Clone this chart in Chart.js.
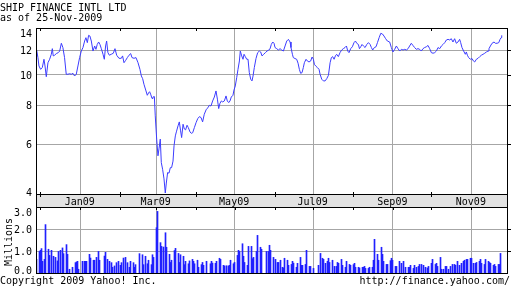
<!DOCTYPE html>
<html>
<head>
<meta charset="utf-8">
<script src="https://cdn.jsdelivr.net/npm/chart.js@4.4.0/dist/chart.umd.min.js"></script>
<style>
  html, body { margin: 0; padding: 0; background: #fff; }
  #wrap { position: relative; width: 512px; height: 288px; overflow: hidden;
          font-family: "DejaVu Sans Mono", monospace; font-size: 10px; line-height: 12px; color: #000; }
  canvas { position: absolute; left: 0; top: 0; }
  .txt { position: absolute; white-space: nowrap; }
</style>
</head>
<body>
<div id="wrap">
  <canvas id="price" width="512" height="288"></canvas>
  <canvas id="volume" width="512" height="288"></canvas>
  <div class="txt" style="left:0;top:2px">SHIP FINANCE INTL LTD</div>
  <div class="txt" style="left:0;top:12px">as of 25-Nov-2009</div>
  <div class="txt" style="left:-15.5px;top:235.8px;width:48.2px;transform:rotate(-90deg)">Millions</div>
  <div class="txt" style="left:0;top:275px">Copyright 2009 Yahoo! Inc.</div>
  <div class="txt" style="right:2px;top:275px">http://finance.yahoo.com/</div>
</div>
<script>
// x values are days since 1 Jan 2009

const xMin = -34.4;
const xMax = 331.7;

const majorMonths = [0, 59, 120, 181, 243, 304];
const majorLabels = ['Jan09', 'Mar09', 'May09', 'Jul09', 'Sep09', 'Nov09'];
const minorMonths = [-31, 31, 90, 151, 212, 273];

const priceTicks = [4, 6, 8, 10, 12, 14];
const priceGrid = [6, 8, 10, 12];
const volumeTicks = [0, 1, 2, 3];
const volumeGrid = [1, 2];

const priceDays = [
  -33.9, -32.9, -32.1, -30.8, -29.5, -28.2, -27.4, -26.4, -25.1, -23.8, -22.5, -21.7, -21.0, -19.9, -18.6, -17.1,
  -16.0, -14.7, -13.5, -12.2, -10.9, -9.6, -8.3, -7.0, -5.7, -4.4, -3.1, -1.8, -0.5, 0.8, 2.1, 3.4,
  4.4, 5.5, 6.5, 7.5, 8.6, 9.9, 11.2, 12.2, 13.2, 14.3, 15.3, 16.4, 17.7, 18.7, 19.7, 20.5,
  21.5, 22.6, 24.1, 25.7, 27.0, 28.3, 30.1, 31.9, 32.9, 34.0, 35.3, 36.6, 37.9, 39.2, 40.2, 41.8,
  43.3, 44.9, 46.4, 47.5, 48.5, 49.5, 51.1, 52.1, 53.2, 53.9, 54.7, 55.8,
  56.5, 57.6, 58.3, 59.4, 60.4, 61.2, 62.2, 63.0, 64.0, 65.1, 66.1, 66.9, 67.9, 69.0, 70.0, 71.0,
  72.1, 72.9, 73.9, 74.7, 76.0, 77.0, 78.0, 78.8, 79.9, 80.9, 81.9, 83.0, 84.0, 85.3, 86.3, 87.4,
  88.7, 90.0, 91.3, 92.6, 93.9, 95.1, 96.4, 98.0, 99.3, 100.3, 101.6, 102.9, 104.2, 105.5, 106.6, 107.6,
  108.6, 109.7, 110.7, 112.0, 113.3, 114.3, 115.4, 116.4, 117.4, 118.7, 119.5, 120.5, 121.6, 122.6, 123.7, 124.4,
  125.5, 126.5, 127.3, 128.3, 129.4, 130.4, 131.4, 132.5, 133.5, 134.3, 135.3, 136.6, 137.9, 139.2, 140.2, 141.3,
  142.6, 143.9, 145.2, 146.5, 147.5,
  148.5, 149.6, 150.6, 151.4, 152.7, 154.0, 155.3, 156.6, 157.9, 159.2, 160.5, 161.8, 163.1, 163.8, 164.9, 165.6,
  166.9, 168.2, 169.3, 170.3, 171.3, 172.4, 173.4, 174.2, 175.5, 176.5, 177.8, 179.1, 180.2, 181.2, 182.0, 183.0,
  184.3, 185.6, 186.4, 187.7, 189.0, 190.3, 191.6, 192.9, 194.2, 195.2, 196.2, 197.3, 198.3, 199.3, 200.6, 201.9,
  203.2, 204.5, 205.8, 206.9, 207.9, 208.9, 210.2, 211.5, 212.8, 213.9, 214.9, 216.2, 217.0, 218.0, 219.0, 220.1,
  221.4, 222.7, 224.0, 225.3, 226.3, 227.3, 228.6, 229.9, 231.0, 232.3, 233.6, 234.9, 236.1, 237.4, 238.7,
  240.5, 241.8, 243.1, 244.4, 245.7, 247.0, 248.3, 249.6, 250.9, 252.2, 253.5, 254.8, 256.0, 257.3, 258.6, 259.9,
  261.2, 262.5, 263.8, 265.1, 266.4, 267.7, 269.0, 270.3, 271.6, 272.9, 274.2, 275.5, 276.8, 278.1, 279.4, 280.7,
  282.0, 283.3, 284.6, 285.9, 287.2, 288.4, 289.7, 291.0, 292.3, 293.6, 294.9, 295.7, 296.7, 298.0, 299.3, 300.1,
  300.9, 301.9, 303.2, 304.5, 305.6, 306.6, 307.9, 309.2, 310.5, 311.8, 313.1, 314.4, 315.7, 317.0, 317.7, 318.8,
  320.1, 321.6, 322.7, 324.0, 325.3, 326.3, 327.1, 327.6
];

const prices = [
  12.00, 11.35, 10.67, 10.41, 10.55, 11.21, 10.67, 9.86, 10.93, 11.21, 11.63, 12.12, 11.49, 11.55, 11.69, 11.77,
  11.91, 12.61, 12.22, 11.35, 10.04, 10.04, 10.08, 10.04, 10.11, 9.91, 10.04, 10.67, 11.35, 11.91, 12.22, 12.82,
  13.14, 12.67, 13.37, 13.30, 12.82, 11.91, 12.36, 12.06, 12.50, 12.73, 12.50, 12.12, 11.63, 11.21, 12.36, 12.82,
  11.77, 11.55, 11.63, 11.72, 12.12, 11.55, 11.29, 11.29, 11.49, 10.93, 11.12, 11.35, 11.55, 11.69, 11.35, 11.29,
  11.35, 10.93, 10.41, 9.91, 9.72, 9.33, 8.88, 8.60, 8.77, 8.83, 8.67, 8.40,
  8.49, 8.52, 7.39, 6.23, 5.51, 5.80, 6.23, 5.24, 4.99, 4.65, 4.19, 4.51, 4.87, 4.85, 5.05, 5.05,
  5.30, 5.93, 6.38, 6.57, 6.87, 7.07, 6.62, 6.30, 6.95, 6.71, 6.67, 6.90, 6.78, 6.57, 6.50, 6.53,
  6.78, 7.03, 7.24, 7.35, 7.30, 7.07, 7.48, 7.76, 7.85, 7.99, 7.95, 8.25, 8.49, 8.88, 8.36, 7.80,
  8.11, 8.25, 8.19, 8.25, 8.56, 8.25, 8.15, 8.25, 8.49, 8.60, 8.94, 9.21, 9.79, 10.41, 11.07, 11.91,
  11.49, 11.21, 11.63, 11.43, 11.21, 11.21, 10.16, 9.68, 9.56, 9.91, 10.55, 11.27, 11.77, 11.91, 11.83, 11.49,
  11.63, 11.77, 11.91, 12.00, 12.10,
  12.50, 12.73, 12.61, 12.22, 12.12, 12.00, 12.12, 12.00, 11.91, 12.36, 12.82, 12.98, 12.73, 12.22, 11.63, 11.35,
  11.27, 11.21, 10.89, 10.41, 10.11, 10.16, 10.55, 10.93, 11.21, 11.07, 10.99, 11.07, 11.40, 11.21, 10.80, 10.67,
  10.55, 10.41, 10.04, 9.68, 9.56, 9.56, 9.72, 9.96, 10.93, 11.35, 11.43, 11.21, 11.49, 11.63, 11.43, 11.77,
  12.00, 12.12, 12.22, 12.36, 11.91, 11.77, 12.12, 12.29, 12.67, 12.82, 12.61, 12.50, 12.12, 12.29, 12.50, 12.36,
  12.22, 12.50, 12.67, 12.50, 12.22, 12.00, 12.22, 12.29, 12.67, 13.14, 13.57, 13.50, 13.30, 13.04, 12.82,
  12.73, 12.22, 11.83, 12.06, 12.36, 12.12, 11.91, 12.06, 12.00, 12.06, 12.00, 12.12, 12.36, 12.61, 12.41, 12.22,
  12.06, 12.12, 12.06, 11.91, 12.12, 12.22, 12.29, 12.41, 12.12, 11.77, 11.72, 11.77, 11.91, 12.22, 12.12, 12.36,
  12.50, 12.67, 12.92, 12.98, 12.92, 13.04, 12.73, 13.04, 12.61, 12.73, 12.98, 12.67, 12.22, 11.91, 11.63, 11.83,
  11.55, 11.35, 11.21, 11.27, 11.07, 10.99, 11.21, 11.29, 11.43, 11.55, 11.63, 11.72, 11.83, 11.91, 12.12, 12.36,
  12.61, 12.73, 12.61, 12.61, 12.67, 12.98, 13.14, 13.37
];

const volumeDays = [
  -34, -32, -31, -30, -29, -28, -27, -25, -24, -22, -21, -19, -18, -17, -15, -14, -13, -11, -10, -8, -6, -4, -3, -2, -1,
  2, 3, 4, 5, 7, 8, 10, 11, 13, 14, 15, 19, 20, 21, 23, 24, 25, 27, 28, 30, 31, 32, 34, 35, 37, 38, 39, 41, 42, 43,
  46, 48, 49, 51, 52, 53, 55, 56, 57, 59, 60, 62, 63, 65, 66, 67, 69, 70, 71, 73, 74, 76, 77, 78, 80, 81, 82, 84, 85,
  87, 88, 89, 91, 92, 94, 95, 96, 98, 101, 102, 103, 105, 106, 108, 109, 111, 112, 114, 115, 116, 117, 119, 120, 122,
  123, 124, 126, 127, 128, 130, 131, 133, 134, 135, 137, 138, 140, 141, 145, 146, 147, 148,
  150, 152, 153, 154, 156, 157, 158, 159, 161, 162, 164, 165, 166, 168, 169, 171, 172, 173, 175, 176, 178, 179, 181,
  185, 187, 188, 189, 191, 192, 193, 194, 196, 198, 199, 200, 201, 203, 204, 206, 207, 209, 210, 212, 213, 214, 216,
  217, 219, 220, 221, 222, 224, 225, 227, 228, 229, 231, 232, 234, 235, 236, 238, 239, 241, 242, 243, 245, 246, 248,
  250, 251, 253, 255, 256, 257, 259, 260, 261, 263, 264, 265, 267, 268, 270, 271, 273, 274, 276, 277, 278, 280, 281,
  282, 284, 285, 286, 288, 289, 291, 292, 293, 295, 296, 298, 299, 300, 301, 303, 304, 306, 307, 308, 310, 311, 312,
  314, 315, 317, 318, 319, 321, 322, 323, 325, 326, 327
];

// millions of shares
const volumes = [
  0.62, 0.98, 1.03, 1.11, 0.53, 0.62, 2.20, 1.08, 0.80, 1.03, 0.76, 0.71, 0.55, 0.98, 1.03, 1.14, 0.88, 1.29, 0.85, 0.17, 0.26, 0.47, 0.50, 0.53, 0.17,
  0.53, 0.53, 0.53, 0.53, 0.85, 0.68, 0.58, 0.58, 0.71, 0.98, 0.58, 0.77, 0.94, 0.62, 0.53, 0.47, 0.26, 0.32, 0.47, 0.53, 0.35, 0.47, 0.68, 0.71, 0.47, 0.26, 0.53, 0.47, 0.26, 0.38,
  0.88, 0.83, 0.38, 0.76, 0.42, 0.58, 0.38, 0.83, 0.71, 2.06, 2.80, 1.38, 1.21, 1.18, 1.83, 1.17, 0.85, 0.48, 0.58, 1.02, 1.12, 0.89, 0.48, 0.83, 0.76, 0.38, 0.53, 0.42, 0.55,
  0.62, 0.53, 0.42, 0.58, 0.26, 0.38, 0.48, 0.35, 0.53, 0.42, 0.53, 0.45, 0.44, 0.53, 0.67, 0.62, 0.35, 0.32, 0.33, 0.32, 0.35, 0.58, 0.42, 0.48, 0.80,
  1.03, 0.98, 1.33, 0.76, 0.48, 0.35, 1.21, 1.21, 0.65, 0.71, 0.98, 1.71, 1.17, 1.08, 0.98, 0.98, 1.26, 1.03,
  0.71, 0.62, 0.48, 0.48, 0.58, 0.26, 0.23, 0.67, 0.58, 0.35, 0.39, 0.53, 0.45, 0.26, 0.44, 0.71, 0.35, 0.35, 0.39, 1.03, 0.30, 0.30, 0.21,
  0.35, 0.89, 0.67, 0.62, 0.44, 0.53, 0.67, 0.48, 0.58, 0.30, 0.30, 0.48, 0.44, 0.62, 0.35, 0.26, 0.53, 0.39, 0.35, 0.38, 0.44, 0.26, 0.26,
  0.23, 0.26, 0.26, 0.30, 0.21, 0.21, 0.26, 0.26, 0.58, 1.53, 0.85, 0.58, 1.17, 0.85, 0.53, 0.39, 0.39, 0.56, 0.67, 0.58, 0.30, 0.30, 0.53,
  0.44, 0.53, 0.26, 0.26, 0.26, 0.35, 0.21, 0.35, 0.26, 0.30, 0.39, 0.39, 0.35, 0.26, 0.23, 0.30, 0.44, 0.62, 0.39, 0.44, 0.30, 0.71, 0.17,
  0.17, 0.30, 0.30, 0.17, 0.30, 0.39, 0.39, 0.35, 0.53, 0.35, 0.44, 0.53, 0.58, 0.62, 0.62, 0.67, 0.67, 0.44, 0.44, 0.48, 0.53, 0.62, 0.44,
  0.39, 0.62, 0.53, 0.48, 0.44, 0.35, 0.39, 0.30, 0.39, 0.39, 0.89
];

const FONT = '10px "DejaVu Sans Mono"';
const GRID = '#a6a6a6';
const BAND = '#e2e2e2';

function tickValues(list) {
  return s => { s.ticks = list.map(v => ({ value: v })); };
}

function vTick(ctx, x, y0, y1) {
  const px = Math.round(x) + 0.5;
  ctx.beginPath(); ctx.moveTo(px, y0); ctx.lineTo(px, y1); ctx.stroke();
}

function hTick(ctx, y, x0, x1) {
  const py = Math.round(y) + 0.5;
  ctx.beginPath(); ctx.moveTo(x0, py); ctx.lineTo(x1, py); ctx.stroke();
}

function yLabels(chart, ticks, fmt, topPad, bottomPad) {
  const { ctx, chartArea: a, scales: { y } } = chart;
  ctx.font = FONT;
  ctx.fillStyle = '#000';
  ctx.textAlign = 'right';
  ctx.textBaseline = 'alphabetic';
  ticks.forEach(v => {
    let cy = y.getPixelForValue(v) + 0.5;
    cy = Math.min(Math.max(cy, a.top + topPad), a.bottom - bottomPad);
    ctx.fillText(fmt(v), 32, cy + 3.6);
  });
}

const priceDeco = {
  id: 'priceDeco',
  afterDraw(chart) {
    const { ctx, chartArea: a, scales: { x, y } } = chart;
    ctx.save();
    ctx.strokeStyle = '#000';
    ctx.lineWidth = 1;
    // date band under the price panel
    ctx.fillStyle = BAND;
    ctx.fillRect(a.left, a.bottom, a.right - a.left, 13);
    ctx.strokeRect(a.left + 0.5, a.bottom + 0.5, a.right - a.left, 13);
    ctx.strokeRect(a.left + 0.5, a.top + 0.5, a.right - a.left, a.bottom - a.top);
    minorMonths.forEach(d => {
      const px = x.getPixelForValue(d);
      if (px < a.left || px > a.right) return;
      vTick(ctx, px, a.top, a.top + 3);
      vTick(ctx, px, a.bottom - 2, a.bottom + 3);
    });
    priceGrid.forEach(v => hTick(ctx, y.getPixelForValue(v), a.right, a.right + 4));
    ctx.font = FONT;
    ctx.fillStyle = '#000';
    ctx.textAlign = 'center';
    majorMonths.forEach((d, i) => ctx.fillText(majorLabels[i], x.getPixelForValue(d) - 0.5, a.bottom + 11));
    yLabels(chart, priceTicks, v => String(v), 5.5, 1.2);
    ctx.restore();
  }
};

// keep the 1px volume bars on whole pixels so they stay crisp
const crispBars = {
  id: 'crispBars',
  beforeDatasetsDraw(chart) {
    chart.getDatasetMeta(0).data.forEach(bar => { bar.x = Math.floor(bar.x) + 0.5; });
  }
};

const volumeDeco = {
  id: 'volumeDeco',
  afterDraw(chart) {
    const { ctx, chartArea: a, scales: { x, y } } = chart;
    ctx.save();
    ctx.strokeStyle = '#000';
    ctx.lineWidth = 1;
    ctx.strokeRect(a.left + 0.5, a.top + 0.5, a.right - a.left, a.bottom - a.top);
    majorMonths.concat(minorMonths).forEach(d => {
      const px = x.getPixelForValue(d);
      if (px < a.left || px > a.right) return;
      vTick(ctx, px, a.top, a.top + 3);
    });
    volumeGrid.forEach(v => hTick(ctx, y.getPixelForValue(v), a.right, a.right + 4));
    yLabels(chart, volumeTicks, v => v.toFixed(1), 5.5, 2.8);
    ctx.restore();
  }
};

const common = {
  responsive: false,
  animation: false,
  events: [],
  plugins: { legend: { display: false }, tooltip: { enabled: false } },
};

new Chart(document.getElementById('price'), {
  type: 'line',
  data: {
    datasets: [{
      data: priceDays.map((d, i) => ({ x: d, y: prices[i] })),
      borderColor: '#3c3cff',
      borderWidth: 1,
      pointRadius: 0,
      tension: 0,
    }]
  },
  options: {
    ...common,
    layout: { padding: { left: 36, top: 28, right: 5, bottom: 94 } },
    scales: {
      x: {
        type: 'linear', min: xMin, max: xMax,
        afterBuildTicks: tickValues(majorMonths),
        afterFit: s => { s.height = 0; },
        grid: { color: GRID, drawTicks: false },
        border: { display: false },
        ticks: { display: false },
      },
      y: {
        type: 'logarithmic', min: 4.16, max: 14.11,
        afterBuildTicks: tickValues(priceGrid),
        afterFit: s => { s.width = 0; },
        grid: { color: GRID, drawTicks: false },
        border: { display: false },
        ticks: { display: false },
      }
    }
  },
  plugins: [priceDeco]
});

new Chart(document.getElementById('volume'), {
  type: 'bar',
  data: {
    datasets: [{
      data: volumeDays.map((d, i) => ({ x: d, y: volumes[i] })),
      backgroundColor: '#2020ff',
      barThickness: 1,
    }]
  },
  options: {
    ...common,
    layout: { padding: { left: 36, top: 207, right: 5, bottom: 15 } },
    scales: {
      x: {
        type: 'linear', min: xMin, max: xMax, offset: false,
        afterBuildTicks: tickValues(majorMonths),
        afterFit: s => { s.height = 0; },
        grid: { color: GRID, drawTicks: false, offset: false },
        border: { display: false },
        ticks: { display: false },
      },
      y: {
        type: 'linear', min: 0, max: 3,
        afterBuildTicks: tickValues(volumeGrid),
        afterFit: s => { s.width = 0; },
        grid: { color: GRID, drawTicks: false },
        border: { display: false },
        ticks: { display: false },
      }
    }
  },
  plugins: [crispBars, volumeDeco]
});
</script>
</body>
</html>
